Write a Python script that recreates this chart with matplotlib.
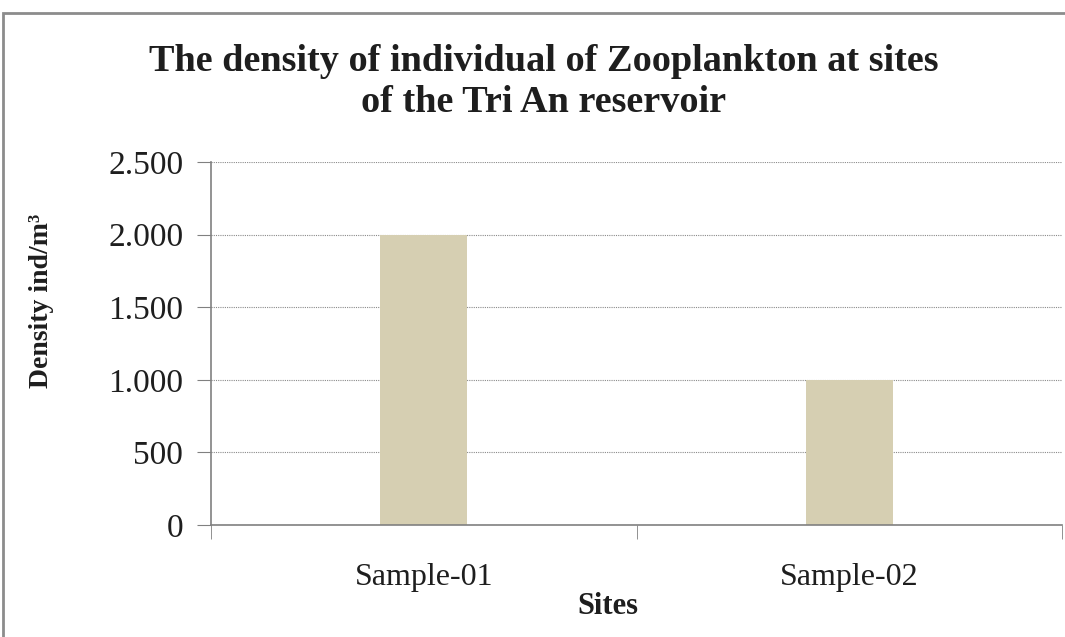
import matplotlib.pyplot as plt
from matplotlib.patches import Rectangle
from matplotlib.ticker import FuncFormatter

# data
sites = ['Sample-01', 'Sample-02']
density = [2000, 1000]
y_ticks = [0, 500, 1000, 1500, 2000, 2500]

plt.rcParams['font.family'] = ['Liberation Serif', 'DejaVu Serif']

fig = plt.figure(figsize=(10.65, 6.37), dpi=100)
ax = fig.add_axes([211 / 1065, 112 / 637, 851 / 1065, 363 / 637])

x = range(len(sites))
ax.bar(x, density, width=0.205, color='#d6cfb2', zorder=2)

ax.set_xlim(-0.5, len(sites) - 0.5)
ax.set_ylim(0, 2500)
ax.set_yticks(y_ticks)
# thousands separator is a dot in the original
ax.yaxis.set_major_formatter(FuncFormatter(lambda v, p: f'{int(v):,}'.replace(',', '.')))
ax.grid(axis='y', linestyle=(0, (1, 1)), color='#8a8a8a', linewidth=0.8, zorder=1)

ax.set_xticks(list(x))
ax.set_xticklabels(sites)
ax.set_xticks([i - 0.5 for i in range(len(sites) + 1)], minor=True)
ax.tick_params(axis='x', which='major', length=0, pad=27, labelsize=23, colors='#1e1e1e')
ax.tick_params(axis='x', which='minor', length=10, color='#808080', direction='out')
ax.tick_params(axis='y', length=10, color='#808080', pad=10, labelsize=24, labelcolor='#1e1e1e')

for side in ['top', 'right']:
    ax.spines[side].set_visible(False)
for side in ['left', 'bottom']:
    ax.spines[side].set_color('#808080')
    ax.spines[side].set_linewidth(1.2)

fig.text(42 / 1065, 1 - 301 / 637, 'Density ind/m³', rotation=90, ha='center', va='center',
         fontsize=20, fontweight='bold', color='#1e1e1e')
fig.text(608 / 1065, 1 - 607 / 637, 'Sites', ha='center', va='center',
         fontsize=22, fontweight='bold', color='#1e1e1e')
fig.text(544 / 1065, 1 - 82 / 637, 'The density of individual of Zooplankton at sites\nof the Tri An reservoir',
         ha='center', va='center', fontsize=27.5, fontweight='bold', color='#1e1e1e', linespacing=1.2)

# frame of the chart area (only top and left visible in the original crop)
fig.patches.append(Rectangle((3 / 1065, -0.1), 1.2, 1 - 13 / 637 + 0.1, transform=fig.transFigure,
                             fill=False, edgecolor='#8c8c8c', linewidth=2))

fig.savefig('out.png', dpi=100)
